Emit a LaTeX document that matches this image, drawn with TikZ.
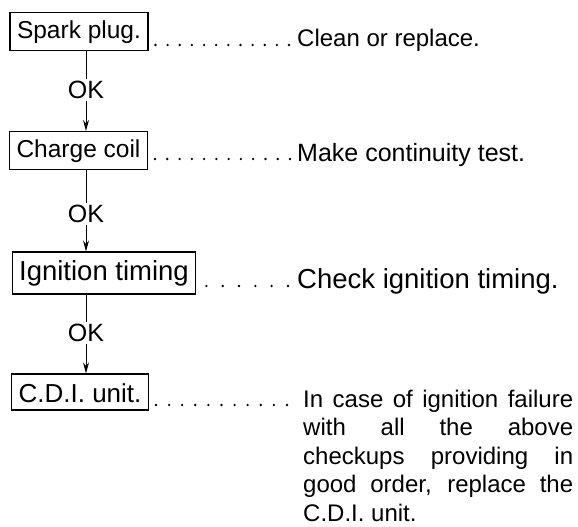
\documentclass[tikz,border=0pt]{standalone}
\usepackage{fontspec}
\setmainfont{Liberation Sans}
\usetikzlibrary{calc,arrows.meta}

\newcommand{\fsz}[1]{\fontsize{#1}{#1}\selectfont}

\tikzset{
	box/.style={draw, line width=1.1pt, anchor=base, inner xsep=7pt, inner ysep=7.5pt,
		text height=18pt, text depth=5pt, font=\fsz{24.5}},
	note/.style={anchor=base west, inner sep=0pt},
	oklabel/.style={inner sep=2pt, font=\fsz{25}},
	link/.style={line width=1pt},
	flow/.style={link, -{Stealth[length=11pt, width=6pt]}}
}

\begin{document}
\begin{tikzpicture}[x=1pt, y=-1pt]
			\useasboundingbox (0,0) rectangle (578,527);

			% checks
			\node[box] (spark) at (79,38) {Spark plug.};
			\node[box] (charge) at (78.5,157) {Charge coil};
			\node[box, font=\fsz{27.5}, text height=20pt, text depth=6pt, inner ysep=8pt] (timing) at (104,280) {Ignition timing};
			\node[box, font=\fsz{26}, text height=20pt, text depth=0pt, inner ysep=8pt] (cdi) at (80,402) {C.D.I. unit.};

			\node[oklabel] (ok1) at (86,90) {OK};
			\node[oklabel] (ok2) at (86,214) {OK};
			\node[oklabel] (ok3) at (86,333) {OK};

			\draw[link] (ok1 |- spark.south) -- (ok1);
			\draw[flow] (ok1) -- (ok1 |- charge.north);
			\draw[link] (ok2 |- charge.south) -- (ok2);
			\draw[flow] (ok2) -- (ok2 |- timing.north);
			\draw[link] (ok3 |- timing.south) -- (ok3);
			\draw[flow] (ok3) -- (ok3 |- cdi.north);

			% remedies
			\node[note, font=\fsz{24}] (clean) at (297,47) {Clean or replace.};
			\node[note, font=\fsz{25}] (continuity) at (297,161) {Make continuity test.};
			\node[note, font=\fsz{27.5}] (checktime) at (297,288) {Check ignition timing.};
			\node[note, text width=270pt, align=justify, font=\fontsize{24}{28.5}\selectfont] (advice) at (303,407)
				{In case of ignition failure\linebreak with all the above\linebreak checkups providing in\linebreak good order, replace the\linebreak C.D.I. unit.};

			% leader dots
			\coordinate (d1a) at ($(spark.east |- clean.base)+(7pt,2pt)$);
			\coordinate (d1b) at ($(clean.base west)+(-8pt,2pt)$);
			\coordinate (d2a) at ($(charge.east |- continuity.base)+(7pt,2pt)$);
			\coordinate (d2b) at ($(continuity.base west)+(-7pt,2pt)$);
			\coordinate (d3a) at ($(timing.east |- checktime.base)+(10pt,2pt)$);
			\coordinate (d3b) at ($(checktime.base west)+(-9pt,2pt)$);
			\coordinate (d4a) at ($(cdi.east |- advice.base)+(7pt,2pt)$);
			\coordinate (d4b) at ($(advice.base west)+(-16pt,2pt)$);
			\foreach \i in {0,...,11} \fill ($(d1a)!\i/11!(d1b)$) circle (1.3pt);
			\foreach \i in {0,...,11} \fill ($(d2a)!\i/11!(d2b)$) circle (1.3pt);
			\foreach \i in {0,...,5} \fill ($(d3a)!\i/5!(d3b)$) circle (1.3pt);
			\foreach \i in {0,...,10} \fill ($(d4a)!\i/10!(d4b)$) circle (1.3pt);

		\end{tikzpicture}
\end{document}
